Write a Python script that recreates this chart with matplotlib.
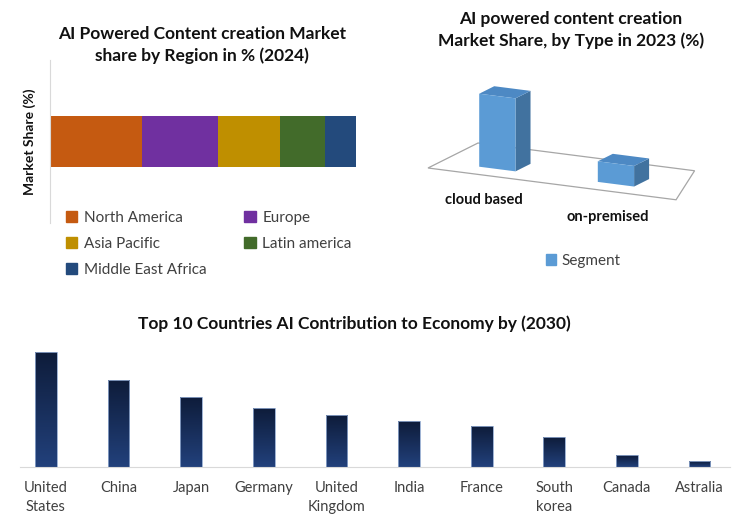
import matplotlib
matplotlib.use("Agg")
import matplotlib.pyplot as plt
import numpy as np
from matplotlib.patches import Patch, Polygon
from matplotlib.colors import LinearSegmentedColormap

# ---------------- data ----------------
regions = ["North America", "Europe", "Asia Pacific", "Latin america", "Middle East Africa"]
region_share = [30, 25, 20, 15, 10]
region_colors = ["#c55a11", "#7030a0", "#bf8f00", "#426b2a", "#234a7c"]

types = ["cloud based", "on-premised"]
type_share = [78, 22]

countries = ["United\nStates", "China", "Japan", "Germany", "United\nKingdom",
             "India", "France", "South\nkorea", "Canada", "Astralia"]
contribution = [115, 87, 70, 59, 52, 46, 41, 30, 12, 6]

W, H = 742, 532
fig = plt.figure(figsize=(W / 100, H / 100), dpi=100)
fig.patch.set_facecolor("white")
FONT = "Lato"
plt.rcParams["font.family"] = [FONT, "DejaVu Sans"]


def fx(px):
    return px / W


def fy(py):
    return 1 - py / H


def box(l, t, r, b):
    return [fx(l), fy(b), fx(r) - fx(l), fy(t) - fy(b)]


# ---------------- top-left: stacked bar ----------------
fig.text(fx(202), fy(45), "AI Powered Content creation Market\nshare by Region in % (2024)",
         ha="center", va="center", fontsize=12.5, fontweight="bold", linespacing=1.35, color="#111111")
ax1 = fig.add_axes(box(50, 60, 356, 223))
left = 0
for name, val, col in zip(regions, region_share, region_colors):
    ax1.barh(0, val, left=left, height=0.626, color=col, label=name)
    left += val
ax1.set_xlim(0, sum(region_share))
ax1.set_ylim(-1, 1)
for s in ["top", "right", "bottom"]:
    ax1.spines[s].set_visible(False)
ax1.spines["left"].set_color("#d9d9d9")
ax1.set_xticks([])
ax1.set_yticks([])
ax1.set_ylabel("Market Share (%)", fontsize=10, fontweight="bold", labelpad=10, color="#111111")
handles = [Patch(color=c) for c in region_colors]
order = [0, 2, 4, 1, 3]
fig.legend([handles[i] for i in order], [regions[i] for i in order], ncol=2,
           loc="upper left", bbox_to_anchor=(fx(52), fy(197)), frameon=False,
           fontsize=11, handlelength=0.75, handleheight=0.75, handletextpad=0.45,
           columnspacing=2.45, labelspacing=0.8, labelcolor="#404040")

# ---------------- top-right: pseudo 3D bars ----------------
fig.text(fx(571), fy(30), "AI powered content creation\nMarket Share, by Type in 2023 (%)",
         ha="center", va="center", fontsize=12.5, fontweight="bold", linespacing=1.35, color="#111111")
ax2 = fig.add_axes(box(410, 80, 730, 230))
ax2.set_xlim(410, 730)
ax2.set_ylim(230, 80)
ax2.axis("off")
k = 73 / type_share[0]  # pixels per unit


def proj(u, d, h=0.0):
    return (428 + 121 * u + 50 * d, 168 + 15.5 * u - 25 * d - k * h)


floor = [proj(0, 0), proj(0, 1), proj(1.79, 1), proj(2.05, 0)]
ax2.add_patch(Polygon(floor, closed=True, facecolor="white", edgecolor="#a6a6a6", lw=0.9))
bar_u = [0.32, 1.30]
bw, d0, bd = 0.30, 0.25, 0.30
for u, v in zip(bar_u, type_share):
    front = [proj(u, d0), proj(u + bw, d0), proj(u + bw, d0, v), proj(u, d0, v)]
    side = [proj(u + bw, d0), proj(u + bw, d0 + bd), proj(u + bw, d0 + bd, v), proj(u + bw, d0, v)]
    top = [proj(u, d0, v), proj(u + bw, d0, v), proj(u + bw, d0 + bd, v), proj(u, d0 + bd, v)]
    ax2.add_patch(Polygon(side, closed=True, facecolor="#41729f", edgecolor="none"))
    ax2.add_patch(Polygon(top, closed=True, facecolor="#4d89c4", edgecolor="none"))
    ax2.add_patch(Polygon(front, closed=True, facecolor="#5b9bd5", edgecolor="none"))
fig.text(fx(484), fy(200), types[0], ha="center", va="center", fontsize=10.5, fontweight="bold", color="#111111")
fig.text(fx(608), fy(217), types[1], ha="center", va="center", fontsize=10.5, fontweight="bold", color="#111111")
fig.legend([Patch(color="#5b9bd5")], ["Segment"], loc="center left", bbox_to_anchor=(fx(532), fy(261)),
           frameon=False, fontsize=11, handlelength=0.7, handleheight=0.7, handletextpad=0.3,
           labelcolor="#404040")

# ---------------- bottom: gradient columns ----------------
fig.text(fx(354), fy(324), "Top 10 Countries AI Contribution to Economy by (2030)",
         ha="center", va="center", fontsize=12.5, fontweight="bold", color="#111111")
ax3 = fig.add_axes(box(20, 345, 730, 467))
x = np.arange(len(countries))
cmap = LinearSegmentedColormap.from_list("navy", ["#22417c", "#0e1c3a"])
grad = np.linspace(0, 1, 256).reshape(-1, 1)
bw3 = 0.30
for xi, v in zip(x, contribution):
    ax3.imshow(grad, extent=[xi - bw3 / 2, xi + bw3 / 2, 0, v], origin="lower",
               cmap=cmap, aspect="auto", zorder=2)
ax3.bar(x, contribution, width=bw3, facecolor="none", edgecolor="#8ea6cc", lw=0.6, zorder=3)
ax3.set_xlim(-0.358, 9.42)
ax3.set_ylim(0, 122)
for s in ["top", "right", "left"]:
    ax3.spines[s].set_visible(False)
ax3.spines["bottom"].set_color("#d9d9d9")
ax3.set_yticks([])
ax3.set_xticks(x)
ax3.set_xticklabels(countries, fontsize=10.5, color="#404040", linespacing=1.45)
ax3.tick_params(axis="x", length=0, pad=10)

fig.savefig("out.png", dpi=100, facecolor="white")
